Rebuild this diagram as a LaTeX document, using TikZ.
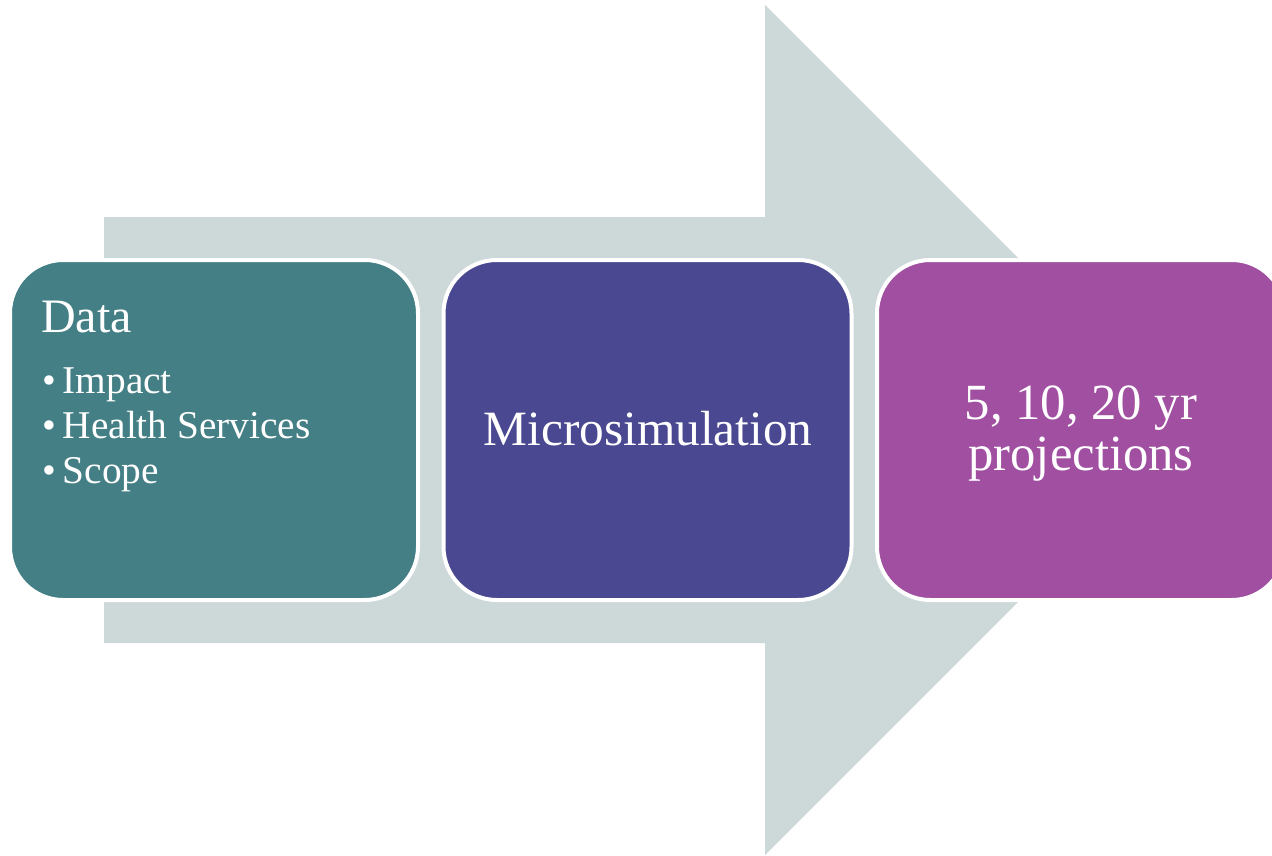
\documentclass[tikz,border=0pt]{standalone}
\usepackage{fontspec}
\setmainfont{Liberation Serif}
\definecolor{arrowgray}{HTML}{CDD8D9}
\definecolor{tealbox}{HTML}{437F85}
\definecolor{purplebox}{HTML}{4B4892}
\definecolor{magentabox}{HTML}{A04FA1}
\tikzset{
  stagebox/.style={draw=white, line width=3pt, rounded corners=40pt,
    minimum width=306pt, minimum height=255pt, inner sep=0pt},
  boxtext/.style={text=white, inner sep=0pt},
}
\begin{document}
\begin{tikzpicture}[x=0.75pt,y=-0.75pt]
\useasboundingbox (0,0) rectangle (1272,856);
\clip (0,0) rectangle (1272,856);
% big arrow
\fill[arrowgray] (104,217) -- (765,217) -- (765,5) -- (1190,430)
  -- (765,855) -- (765,643) -- (104,643) -- cycle;
% boxes
\node[stagebox, fill=tealbox] (data) at (214,430) {};
\node[stagebox, fill=purplebox] (micro) at (647.5,430) {};
\node[stagebox, fill=magentabox] (proj) at (1081,430) {};
% texts
\node[boxtext, anchor=base west, font=\fontsize{36}{36}\selectfont] (datatitle) at (41,332) {Data};
\node[boxtext, anchor=base west, font=\fontsize{29.5}{30}\selectfont] (item1) at (42,393) {•\hspace{5pt}Impact};
\node[boxtext, anchor=base west, font=\fontsize{29.5}{30}\selectfont] (item2) at (42,438) {•\hspace{5pt}Health Services};
\node[boxtext, anchor=base west, font=\fontsize{29.5}{30}\selectfont] (item3) at (42,483) {•\hspace{5pt}Scope};
\node[boxtext, anchor=base, font=\fontsize{37}{37}\selectfont] (microtext) at (648,445) {Microsimulation};
\node[boxtext, align=center, anchor=base, font=\fontsize{38}{37}\selectfont] (projtext) at (1081,470) {5, 10, 20 yr\\[1pt]projections};
\end{tikzpicture}
\end{document}
